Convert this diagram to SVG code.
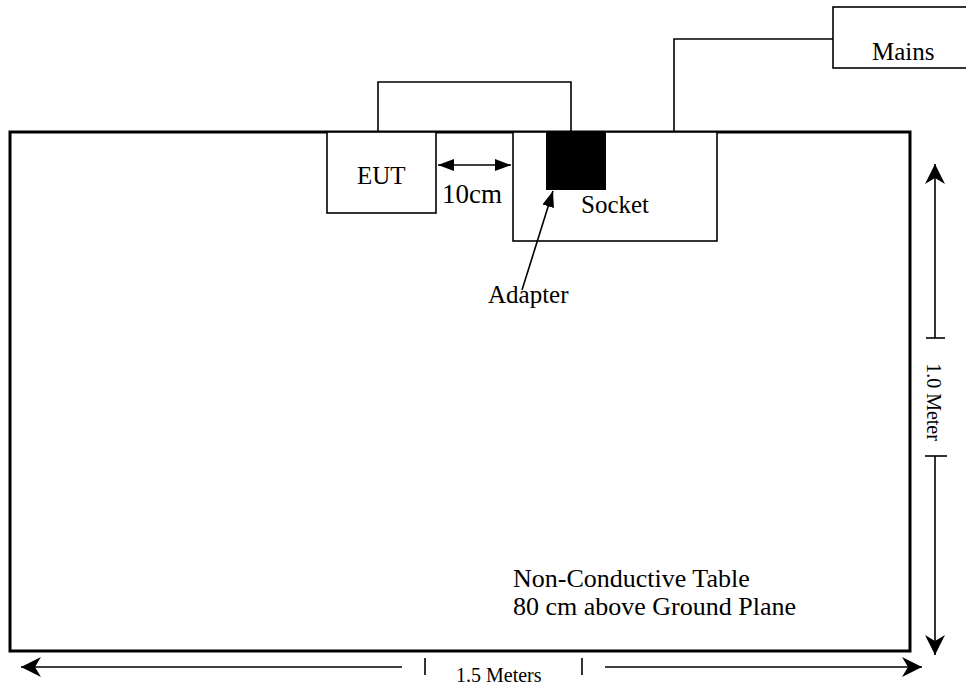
<svg xmlns="http://www.w3.org/2000/svg" width="966" height="689" viewBox="0 0 966 689">
<style>
text{font-family:"Liberation Serif","Times New Roman","DejaVu Serif",serif;fill:#000}
.box{fill:#fff;stroke:#000;stroke-width:1.6}
.ln{fill:none;stroke:#000;stroke-width:1.6}
.head{fill:#000;stroke:none}
</style>
<defs>
<marker id="tri2" viewBox="0 0 10 10" refX="10" refY="5" markerWidth="16" markerHeight="12" markerUnits="userSpaceOnUse" orient="auto-start-reverse" preserveAspectRatio="none">
<path d="M0,0 L10,5 L0,10 Z" class="head"/>
</marker>
<marker id="barb" viewBox="0 0 20 20" refX="20" refY="10" markerWidth="20" markerHeight="20" markerUnits="userSpaceOnUse" orient="auto-start-reverse">
<path d="M0,0 L20,10 L0,20 L6,10 Z" class="head"/>
</marker>
</defs>
<g id="table">
<rect x="10" y="132" width="900" height="519" fill="#fff" stroke="#000" stroke-width="3"/>
<text x="513" y="587" font-size="26" font-family="Liberation Serif, serif">Non-Conductive Table</text>
<text x="513" y="615" font-size="26" font-family="Liberation Serif, serif">80 cm above Ground Plane</text>
</g>
<g id="eut">
<rect class="box" x="327" y="132" width="109" height="81"/>
<text x="357" y="184" font-size="25" font-family="Liberation Serif, serif">EUT</text>
</g>
<g id="socket">
<rect class="box" x="513" y="132" width="204" height="109"/>
<text x="581" y="213" font-size="25" font-family="Liberation Serif, serif">Socket</text>
</g>
<g id="adapter">
<rect x="546" y="132" width="60" height="58" fill="#000"/>
<text x="488" y="303" font-size="25" font-family="Liberation Serif, serif">Adapter</text>
</g>
<g id="mains">
<rect class="box" x="833" y="7" width="140" height="61"/>
<text x="872" y="60" font-size="25" font-family="Liberation Serif, serif">Mains</text>
</g>
<g id="label-10cm">
<text x="442" y="203" font-size="27" font-family="Liberation Serif, serif">10cm</text>
</g>
<g id="connectors">
<path class="ln" d="M378,132 V82 H571 V132"/>
<path class="ln" d="M674,132 V39 H833"/>
<line class="ln" x1="438" y1="165" x2="511" y2="165" marker-start="url(#tri2)" marker-end="url(#tri2)"/>
<line class="ln" x1="522" y1="290" x2="553" y2="191" marker-end="url(#tri2)"/>
</g>
<g id="dim-vertical">
<line class="ln" x1="935" y1="164" x2="935" y2="338" marker-start="url(#barb)"/>
<line class="ln" x1="926" y1="338" x2="945" y2="338"/>
<line class="ln" x1="935" y1="456" x2="935" y2="655" marker-end="url(#barb)"/>
<line class="ln" x1="925" y1="456" x2="947" y2="456"/>
<text transform="translate(927,402) rotate(90)" text-anchor="middle" font-size="20" font-family="Liberation Serif, serif">1.0 Meter</text>
</g>
<g id="dim-horizontal">
<line class="ln" x1="21" y1="667" x2="402" y2="667" marker-start="url(#barb)"/>
<line class="ln" x1="425" y1="658" x2="425" y2="675"/>
<text x="456" y="682" font-size="20" font-family="Liberation Serif, serif">1.5 Meters</text>
<line class="ln" x1="582" y1="658" x2="582" y2="675"/>
<line class="ln" x1="605" y1="667" x2="922" y2="667" marker-end="url(#barb)"/>
</g>
</svg>
